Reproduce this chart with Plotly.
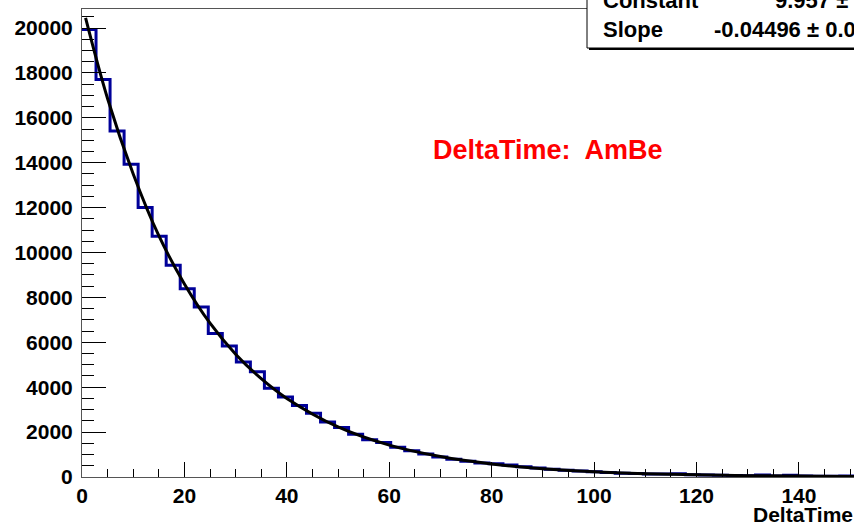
import numpy as np
import plotly.graph_objects as go

# histogram contents (bin width ~2.74)
bin_width = 2.74
counts = [19930, 17710, 15410, 13930, 12000, 10720, 9430, 8390, 7570, 6390,
          5840, 5120, 4690, 3950, 3560, 3190, 2840, 2450, 2210, 1900,
          1660, 1540, 1320, 1170, 1020, 890, 790, 700, 620, 590,
          530, 460, 400, 350, 300, 270, 230, 200, 170, 160,
          130, 130, 150, 100, 90, 80, 70, 60, 90, 50,
          80, 40, 35, 30, 40, 25]

# fitted exponential, points
fit_x = [0.7, 5, 10, 15, 20, 25, 30, 35, 40, 50, 60, 70, 80, 90, 100,
         110, 120, 130, 140, 150, 155]
fit_y = [20450, 16850, 13500, 10750, 8600, 6850, 5470, 4380, 3500, 2230,
         1420, 910, 580, 370, 235, 150, 95, 60, 40, 25, 20]

stat_names = ['Constant', 'Slope']
stat_values = ['9.957 \u00b1 0.002', '-0.04496 \u00b1 0.00005']

edges = np.arange(len(counts) + 1) * bin_width
hist_y = counts + [counts[-1]]

W, H = 854, 523
L, R, T, B = 82, 0, 9, 46
pw, ph = W - L - R, H - T - B


def px(xp):
    return (xp - L) / pw


def py(yp):
    return (H - B - yp) / ph


bold = dict(family='Liberation Sans, Arial, sans-serif', weight='bold', color='black')

fig = go.Figure()
fig.add_trace(go.Scatter(x=edges, y=hist_y, mode='lines', line_shape='hv',
                         line=dict(color='#000099', width=3), showlegend=False))
fig.add_trace(go.Scatter(x=fit_x, y=fit_y, mode='lines', line_shape='spline',
                         line=dict(color='black', width=3), showlegend=False))

# stats box (shadow + box), partly off the page like the original
fig.add_shape(type='rect', xref='paper', yref='paper', x0=px(589), x1=px(900),
              y0=py(50), y1=py(-40), fillcolor='black', line_width=0, layer='above')
fig.add_shape(type='rect', xref='paper', yref='paper', x0=px(587), x1=px(900),
              y0=py(48), y1=py(-40), fillcolor='white',
              line=dict(color='black', width=1), layer='above')

annotations = []
for i, (name, val) in enumerate(zip(stat_names, stat_values)):
    yc = 0 + 30 * i
    annotations.append(dict(text=name, xref='paper', yref='paper', x=px(601), y=py(yc),
                            xanchor='left', yanchor='middle', showarrow=False,
                            font=dict(bold, size=22)))
    annotations.append(dict(text=val, xref='paper', yref='paper',
                            x=px([773, 712][i]), y=py(yc),
                            xanchor='left', yanchor='middle', showarrow=False,
                            font=dict(bold, size=22)))

annotations.append(dict(text='DeltaTime:\u00a0 AmBe', xref='paper', yref='paper',
                        x=px(431), y=py(150), xanchor='left', yanchor='middle',
                        showarrow=False, font=dict(bold, size=27, color='red')))
annotations.append(dict(text='DeltaTime', xref='paper', yref='paper',
                        x=px(751), y=py(514), xanchor='left', yanchor='middle',
                        showarrow=False, font=dict(bold, size=21)))

fig.update_layout(
    width=W, height=H,
    margin=dict(l=L, r=R, t=T, b=B),
    plot_bgcolor='white', paper_bgcolor='white',
    annotations=annotations,
    xaxis=dict(range=[0, pw / 5.121], showgrid=False, zeroline=False,
               showline=True, mirror=True, linecolor='#555', linewidth=1,
               ticks='inside', ticklen=15, tickcolor='black', tickwidth=1,
               tick0=0, dtick=20, tickfont=dict(bold, size=21),
               minor=dict(ticks='inside', ticklen=8, dtick=5, tickcolor='black')),
    yaxis=dict(range=[0, ph / 22.45 * 1000], showgrid=False, zeroline=False,
               showline=True, linecolor='#555', linewidth=1,
               ticks='inside', ticklen=24, tickcolor='black', tickwidth=1,
               tick0=0, dtick=2000, tickformat='d', tickfont=dict(bold, size=21),
               ticklabelstandoff=4,
               minor=dict(ticks='inside', ticklen=12, dtick=500, tickcolor='black')),
)

# no body margin, so the figure fills the window from the corner
fig.write_html('out.html', config={'displayModeBar': False},
               post_script="document.body.style.margin='0';")
